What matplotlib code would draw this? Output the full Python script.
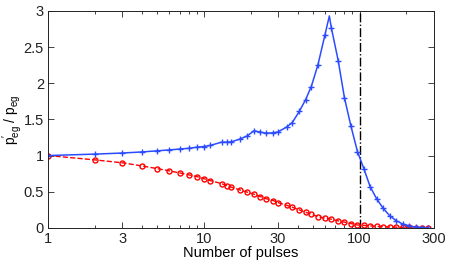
import matplotlib
matplotlib.use("Agg")
import matplotlib.pyplot as plt
from matplotlib.ticker import FixedLocator, LogLocator, NullFormatter

plt.rcParams["font.family"] = ["Liberation Sans", "DejaVu Sans"]
plt.rcParams["mathtext.fontset"] = "custom"
plt.rcParams["mathtext.rm"] = "Liberation Sans"
plt.rcParams["mathtext.it"] = "Liberation Sans:italic"
plt.rcParams["mathtext.fallback"] = "stixsans"

# --- data ---
pulses = [1, 2, 3, 4, 5, 6, 7, 8, 9, 10, 11, 13, 14, 15, 17, 19, 21, 23, 25,
          28, 30, 34, 37, 41, 45, 49, 54, 60, 64, 66, 73, 80, 88, 97, 107,
          117, 129, 142, 156, 172, 189, 208, 229, 252, 277]
ratio_blue = [1.0, 1.02, 1.035, 1.05, 1.065, 1.078, 1.09, 1.1, 1.115, 1.125,
              1.14, 1.185, 1.185, 1.19, 1.227, 1.272, 1.342, 1.325, 1.31,
              1.314, 1.328, 1.393, 1.456, 1.609, 1.77, 1.954, 2.25, 2.67,
              2.93, 2.76, 2.31, 1.80, 1.41, 1.055, 0.81, 0.57, 0.40, 0.27,
              0.17, 0.10, 0.055, 0.028, 0.012, 0.005, 0.002]
PEAK_IDX = 28  # line vertex at the peak, drawn without marker

pulses_red = [1, 2, 3, 4, 5, 6, 7, 8, 9, 10, 11, 13, 14, 15, 17, 19, 21, 23,
              25, 28, 30, 34, 37, 41, 45, 49, 54, 60, 66, 73, 80, 88, 97, 107,
              117, 129, 142, 156, 172, 189, 208, 229, 252, 277]
ratio_red = [1.0, 0.94, 0.90, 0.857, 0.82, 0.788, 0.76, 0.733, 0.71, 0.68,
             0.654, 0.612, 0.585, 0.563, 0.526, 0.494, 0.466, 0.433, 0.405,
             0.377, 0.35, 0.313, 0.286, 0.249, 0.217, 0.19, 0.156, 0.134,
             0.12, 0.097, 0.079, 0.06, 0.04, 0.035, 0.028, 0.022, 0.017,
             0.013, 0.01, 0.008, 0.006, 0.004, 0.003, 0.002]

x_ticks = [1, 3, 10, 30, 100, 300]
y_ticks = [0, 0.5, 1, 1.5, 2, 2.5, 3]
marker_line = 100

BLUE = "#2b4bff"
RED = "#ff0000"

fig = plt.figure(figsize=(4.5, 2.65), dpi=100)
ax = fig.add_axes([0.107, 0.140, 0.857, 0.819])

ax.axvline(marker_line, color="black", linestyle="-.", linewidth=1.0)

ax.plot(pulses_red, ratio_red, color=RED, linestyle="--", linewidth=1.0,
        marker="o", markersize=3.6, markerfacecolor="none",
        markeredgewidth=1.0)

blue_marks = [i for i in range(len(pulses)) if i != PEAK_IDX]
ax.plot(pulses, ratio_blue, color=BLUE, linestyle="-", linewidth=1.1,
        marker="+", markersize=5, markeredgewidth=1.0, markevery=blue_marks)

ax.set_xscale("log")
ax.set_xlim(1, 300)
ax.set_ylim(0, 3)
ax.xaxis.set_major_locator(FixedLocator(x_ticks))
ax.set_xticklabels([str(t) for t in x_ticks])
ax.xaxis.set_minor_locator(LogLocator(base=10, subs=range(2, 10), numticks=20))
ax.xaxis.set_minor_formatter(NullFormatter())
ax.set_yticks(y_ticks)
ax.set_yticklabels(["0", "0.5", "1", "1.5", "2", "2.5", "3"])

ax.tick_params(which="both", direction="in", top=True, right=True,
               labelsize=10.5, colors="#222222", width=0.6)
ax.tick_params(which="major", length=4, pad=3)
ax.tick_params(which="minor", length=2)
for s in ax.spines.values():
    s.set_color("#222222")
    s.set_linewidth(0.7)

ax.set_xlabel("Number of pulses", fontsize=10.5, labelpad=0)
ax.set_ylabel(r"$\mathregular{p^{\prime}_{eg}\ /\ p_{eg}}$", fontsize=10)
ax.yaxis.set_label_coords(-0.06, 0.5)

fig.savefig("out.png", dpi=100)
